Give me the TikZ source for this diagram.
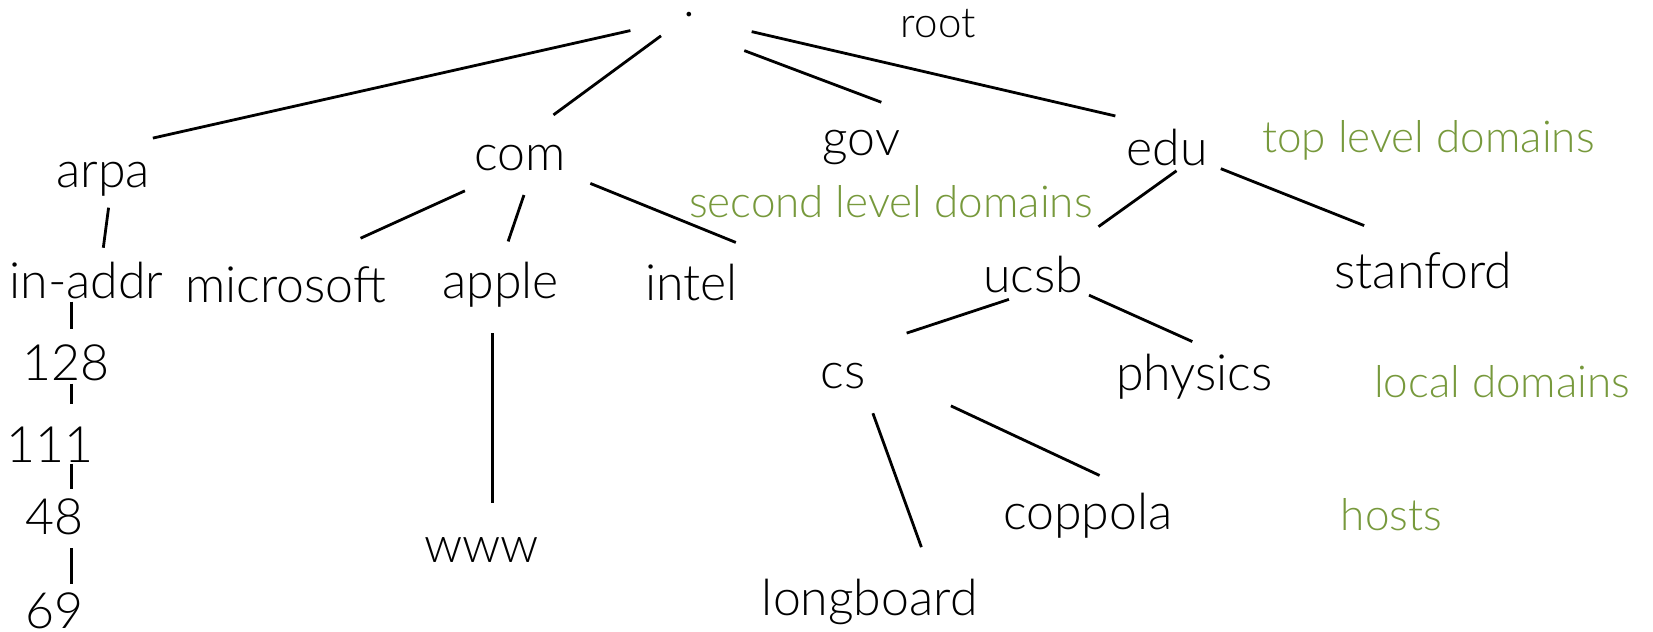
\documentclass[tikz,border=0pt]{standalone}
\usepackage{fontspec}
\setmainfont{Lato}[UprightFont=* Light]
\definecolor{levelgreen}{HTML}{77993C}
\begin{document}
\begin{tikzpicture}[x=0.5271pt,y=-0.5271pt,
  every node/.style={inner sep=0pt,outer sep=0pt},
  domlabel/.style={font=\fontsize{25}{27}\selectfont},
  smalltxt/.style={font=\fontsize{21}{23}\selectfont},
  levellabel/.style={font=\fontsize{22}{24}\selectfont,text=levelgreen},
  treeedge/.style={line width=1.4pt,line cap=butt}]
\useasboundingbox (0,0) rectangle (1568,599);

% tree nodes
\node[domlabel] (root) at (654,14) {.};
\node[smalltxt] (rootlbl) at (890,22) {root};
\node[domlabel] (arpa) at (98,170) {arpa};
\node[domlabel] (com) at (493,150) {com};
\node[domlabel] (gov) at (817,140) {gov};
\node[domlabel] (edu) at (1107,140) {edu};
\node[domlabel] (inaddr) at (82,266) {in-addr};
\node[domlabel] (microsoft) at (271,270) {microsoft};
\node[domlabel] (apple) at (475,270) {apple};
\node[domlabel] (intel) at (656,268) {intel};
\node[domlabel] (ucsb) at (980,260) {ucsb};
\node[domlabel] (stanford) at (1350,257) {stanford};
\node[domlabel] (cs) at (800,357) {cs};
\node[domlabel] (physics) at (1133,357) {physics};
\node[domlabel] (n128) at (63,344) {128};
\node[domlabel] (n111) at (47,422) {111};
\node[domlabel] (n48) at (52,490) {48};
\node[domlabel] (n69) at (52,579) {69};
\node[domlabel] (www) at (457,522) {www};
\node[domlabel] (coppola) at (1032,489) {coppola};
\node[domlabel] (longboard) at (825,571) {longboard};

% level captions
\node[levellabel] (toplvl) at (1355,133) {top level domains};
\node[levellabel] (secondlvl) at (845,191) {second level domains};
\node[levellabel] (locallvl) at (1425,362) {local domains};
\node[levellabel] (hostslvl) at (1320,488) {hosts};

% parent-child links, each end offset from its node centre
\newcommand\link[6]{\draw[treeedge] ([shift={(#2,#3)}]#1.center) -- ([shift={(#5,#6)}]#4.center);}
\link{root}{-56}{15}{arpa}{47}{-39}
\link{root}{-27}{20}{com}{32}{-41}
\link{root}{52}{34}{gov}{19}{-43}
\link{root}{59}{16}{edu}{-49}{-30}
\link{arpa}{5}{27}{inaddr}{16}{-31}
\link{com}{-52}{31}{microsoft}{71}{-44}
\link{com}{4}{35}{apple}{7}{-41}
\link{com}{67}{24}{intel}{42}{-38}
\link{edu}{9}{22}{ucsb}{62}{-45}
\link{edu}{51}{20}{stanford}{-56}{-43}
\link{inaddr}{-14}{20}{n128}{5}{-32}
\link{n128}{5}{20}{n111}{21}{-39}
\link{n111}{21}{18}{n48}{16}{-26}
\link{n48}{16}{30}{n69}{16}{-25}
\link{apple}{-8}{46}{www}{10}{-45}
\link{ucsb}{-23}{24}{cs}{60}{-41}
\link{ucsb}{53}{20}{physics}{-2}{-33}
\link{cs}{28}{35}{longboard}{49}{-52}
\link{cs}{102}{28}{coppola}{11}{-38}
\end{tikzpicture}
\end{document}
